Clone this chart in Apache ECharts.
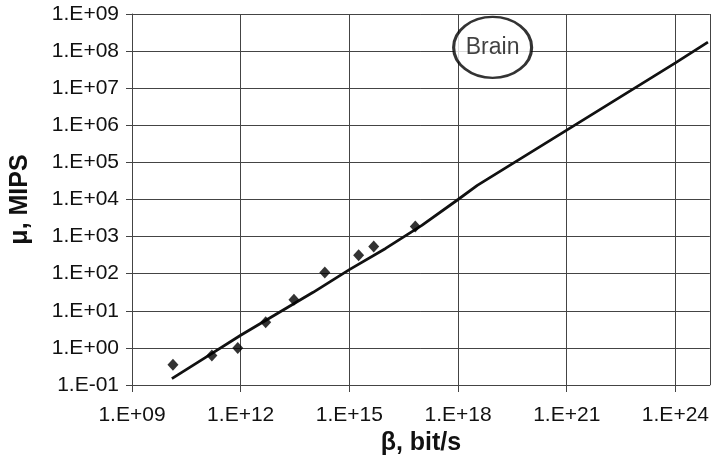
<!DOCTYPE html>
<html>
<head>
<meta charset="utf-8">
<script src="https://cdn.jsdelivr.net/npm/echarts@6/dist/echarts.min.js"></script>
<style>
  html, body { margin: 0; padding: 0; background: #fff; }
  #chart { width: 712px; height: 461px; }
</style>
</head>
<body>
<div id="chart"></div>
<script>
// Measured systems: bandwidth (bit/s) vs. computing power (MIPS)
const betaPoints = [1.35e10, 1.6e11, 8.3e11, 4.9e12, 2.95e13, 2.1e14, 1.8e15, 4.7e15, 6.6e16];
const muPoints   = [0.35, 0.62, 1.0, 4.9, 20, 107, 316, 537, 1860];

// Fitted trend curve, extended towards the brain
const betaFit = [1.26e10, 1e11, 1e12, 1e13, 1e14, 1e15, 1e16, 1e17, 1e18, 3.4e18, 1e21, 1e24, 7.9e24];
const muFit   = [0.148, 0.53, 2.2, 8.3, 31.5, 129, 480, 2000, 1.0e4, 2.4e4, 7.4e5, 4.8e7, 1.75e8];

// "Brain" callout position (bit/s, MIPS)
const brainBeta = 9e18;
const brainMu = 1.26e8;

const xTickLabels = ['1.E+09', '1.E+12', '1.E+15', '1.E+18', '1.E+21', '1.E+24'];
const yTickLabels = ['1.E-01', '1.E+00', '1.E+01', '1.E+02', '1.E+03', '1.E+04',
                     '1.E+05', '1.E+06', '1.E+07', '1.E+08', '1.E+09'];

const lg = Math.log10;
const pointData = betaPoints.map((b, i) => [lg(b), lg(muPoints[i])]);
const fitData = betaFit.map((b, i) => [lg(b), lg(muFit[i])]);

const FONT = 'Liberation Sans, Arial, sans-serif';
const GRID_COLOR = '#444';

const chart = echarts.init(document.getElementById('chart'), null, { renderer: 'canvas' });

chart.setOption({
  animation: false,
  backgroundColor: '#fff',
  grid: { left: 132, top: 14, right: -2, bottom: 76, containLabel: false },
  xAxis: {
    type: 'value',
    min: 9,
    max: 24.95,
    interval: 3,
    name: 'β, bit/s',
    nameLocation: 'middle',
    nameGap: 43,
    nameTextStyle: { fontFamily: FONT, fontSize: 25, fontWeight: 'bold', color: '#111' },
    axisLine: { show: true, onZero: false, lineStyle: { color: GRID_COLOR, width: 1 } },
    axisTick: { show: true, length: 7, lineStyle: { color: GRID_COLOR, width: 1 } },
    axisLabel: {
      fontFamily: FONT, fontSize: 21, color: '#111', margin: 20,
      showMaxLabel: false,
      formatter: v => {
        const k = Math.round((v - 9) / 3);
        return Math.abs(v - 9 - 3 * k) < 1e-6 && xTickLabels[k] ? xTickLabels[k] : '';
      }
    },
    splitLine: { show: true, lineStyle: { color: GRID_COLOR, width: 1 } }
  },
  yAxis: {
    type: 'value',
    min: -1,
    max: 9,
    interval: 1,
    name: 'μ, MIPS',
    nameLocation: 'middle',
    nameGap: 99,
    nameRotate: 90,
    nameTextStyle: { fontFamily: FONT, fontSize: 25, fontWeight: 'bold', color: '#111' },
    axisLine: { show: true, onZero: false, lineStyle: { color: GRID_COLOR, width: 1 } },
    axisTick: { show: true, length: 6, lineStyle: { color: GRID_COLOR, width: 1 } },
    axisLabel: {
      fontFamily: FONT, fontSize: 21, color: '#111', margin: 13,
      formatter: v => yTickLabels[Math.round(v + 1)] || ''
    },
    splitLine: { show: true, lineStyle: { color: GRID_COLOR, width: 1 } }
  },
  series: [
    {
      name: 'fit',
      type: 'line',
      data: fitData,
      showSymbol: false,
      symbol: 'none',
      smooth: false,
      lineStyle: { color: '#111', width: 2.8 },
      z: 3
    },
    {
      name: 'systems',
      type: 'scatter',
      data: pointData,
      symbol: 'diamond',
      symbolSize: [11, 12],
      itemStyle: { color: '#000' },
      z: 4
    },
    {
      name: 'brain',
      type: 'scatter',
      data: [[lg(brainBeta), lg(brainMu)]],
      symbol: 'circle',
      symbolSize: [78, 61],
      itemStyle: { color: '#fff', borderColor: '#000', borderWidth: 2.8 },
      label: {
        show: true,
        position: 'inside',
        formatter: 'Brain',
        fontFamily: FONT,
        fontSize: 23,
        color: '#111'
      },
      z: 5
    }
  ]
});
</script>
</body>
</html>
